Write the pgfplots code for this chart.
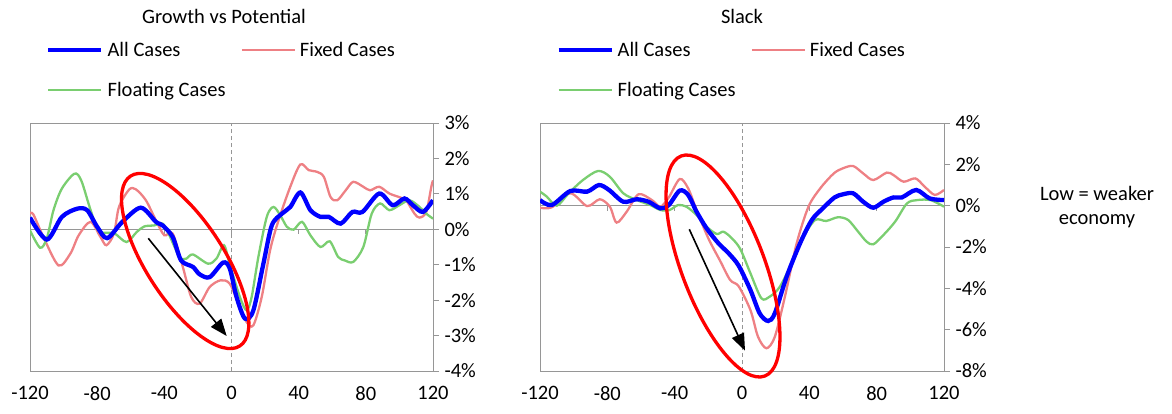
\documentclass[border=0pt]{standalone}
\usepackage{fontspec}
\setmainfont{Carlito}
\usepackage{pgfplots}
\pgfplotsset{compat=1.18}
\usetikzlibrary{arrows.meta}

\definecolor{allblue}{RGB}{0,0,255}
\definecolor{fixedred}{RGB}{238,128,132}
\definecolor{floatgreen}{RGB}{122,206,112}
\definecolor{framegray}{RGB}{150,150,150}

\pgfplotsset{
  panel/.style={
    scale only axis, width=403pt, height=248pt,
    xmin=-120, xmax=120,
    axis line style={framegray, line width=0.9pt},
    xtick={-120,-80,...,120},
    xticklabels={-120,-80,-40,0,40,80,120},
    xtick style={draw=none},
    xticklabel style={yshift=-6pt},
    ytick pos=right, yticklabel pos=right,
    tick align=outside, major tick length=6pt,
    ytick style={framegray, line width=0.9pt},
    yticklabel style={xshift=2pt},
    legend columns=2,
    legend cell align=left,
    legend image code/.code={\draw[##1] (0pt,0pt) -- (53pt,0pt);},
    legend style={anchor=north west, draw=none, fill=none, inner sep=0pt,
      row sep=22pt, nodes={inner sep=1pt},
      /tikz/every odd column/.append style={column sep=3pt},
      /tikz/every even column/.append style={column sep=14pt}},
  },
  allst/.style={allblue, line width=4.3pt, smooth},
  fixst/.style={fixedred, line width=2.3pt, smooth},
  flost/.style={floatgreen, line width=2.3pt, smooth},
}

\begin{document}
\begin{tikzpicture}[x=1pt, y=1pt, font=\fontsize{20.5}{24.6}\selectfont]
\path[use as bounding box] (0,0) rectangle (1172,-413);
\coordinate (P1) at (30,-371);
\coordinate (P2) at (540,-371);

% ---------- Growth vs Potential ----------
\begin{axis}[panel, at={(P1)}, anchor=south west,
    ymin=-4, ymax=3,
    ytick={-4,...,3},
    yticklabels={-4\%,-3\%,-2\%,-1\%,0\%,1\%,2\%,3\%},
    legend style={at={(axis description cs:0.04,1.33)}}]
  \addlegendimage{allblue, line width=4.3pt}
  \addlegendentry{All Cases}
  \addlegendimage{fixedred, line width=2.3pt}
  \addlegendentry{Fixed Cases}
  \addlegendimage{floatgreen, line width=2.3pt}
  \addlegendentry{Floating Cases}
  \draw[framegray, line width=0.9pt] (axis cs:-120,0) -- (axis cs:120,0);
  \pgfplotsinvokeforeach{-120,-80,-40,0,40,80,120}{
    \draw[framegray, line width=0.9pt] (axis cs:#1,0) -- ([yshift=-5pt]axis cs:#1,0);}
  \draw[framegray, line width=0.9pt, dash pattern=on 4pt off 3pt] (axis cs:0,-4) -- (axis cs:0,3);
  \addplot[fixst, forget plot] coordinates {
    (-120,0.44) (-118,0.42) (-112,-0.22) (-103,-1.02) (-96,-0.69) (-91,-0.17)
    (-84,0.21) (-78,-0.22) (-74.5,-0.45) (-70,-0.12) (-67,0.63) (-61,1.12)
    (-57,1.13) (-51,0.82) (-45,0.25) (-40,-0.17) (-35,-0.12) (-29,-1.06)
    (-24,-1.91) (-19,-2.1) (-13,-1.63) (-6.5,-1.44) (-1,-1.54) (5,-2.2)
    (9,-2.62) (13,-2.71) (18,-1.91) (23,-0.59) (28,0.25) (35,1.2) (41,1.83)
    (46,1.67) (51,1.62) (55,1.48) (59,0.91) (63,0.82) (68,1.1) (72.5,1.34)
    (78.5,1.2) (82.5,1.1) (88,1.2) (94,1.01) (101,0.89) (104,0.82) (109,0.44)
    (112,0.33) (116,0.49) (119,1.2) (120,1.38)};
  \addplot[flost, forget plot] coordinates {
    (-120,-0.03) (-114,-0.52) (-110,-0.26) (-106,0.54) (-101,1.15) (-93.5,1.57)
    (-89.5,1.38) (-84.5,0.63) (-79.5,-0.03) (-74.5,-0.1) (-69.5,-0.12)
    (-62.5,-0.36) (-56.5,-0.08) (-52,0.08) (-46,0.11) (-41,0.16) (-37,-0.17)
    (-31,-0.78) (-27,-0.83) (-23,-0.71) (-14,-0.97) (-9,-0.83) (-4.5,-0.45)
    (-1,-1.0) (5,-1.91) (9,-2.29) (12,-1.91) (16,-0.78) (21,0.35) (25,0.63)
    (29,0.4) (33,0.07) (37,-0.01) (42,0.21) (47,-0.17) (53,-0.5) (58.5,-0.34)
    (63.5,-0.78) (67.5,-0.88) (72.5,-0.92) (78.5,-0.5) (83.5,0.44) (88.5,0.73)
    (94,0.54) (100,0.68) (106,0.82) (112,0.63) (116,0.44) (120,0.3)};
  \addplot[allst, forget plot] coordinates {
    (-120,0.33) (-110,-0.29) (-101,0.35) (-92,0.58) (-86,0.54) (-80,0.07)
    (-74,-0.25) (-65,0.21) (-54,0.61) (-45,0.21) (-41,0.11) (-35,-0.22)
    (-30,-0.88) (-23,-1.06) (-19,-1.27) (-13,-1.35) (-5,-0.94) (-1,-1.11)
    (3,-1.91) (8,-2.52) (13,-2.29) (19,-0.97) (24,0.11) (30,0.44) (35,0.63)
    (41,1.04) (47,0.54) (53,0.35) (58,0.35) (65,0.16) (72,0.49) (78,0.49)
    (88,1.01) (96,0.68) (103,0.87) (108,0.68) (114,0.49) (120,0.82)};
\end{axis}

% ---------- Slack ----------
\begin{axis}[panel, at={(P2)}, anchor=south west, width=404pt,
    ymin=-8, ymax=4,
    ytick={-8,-6,...,4},
    yticklabels={-8\%,-6\%,-4\%,-2\%,0\%,2\%,4\%},
    legend style={at={(axis description cs:0.04,1.33)}}]
  \addlegendimage{allblue, line width=4.3pt}
  \addlegendentry{All Cases}
  \addlegendimage{fixedred, line width=2.3pt}
  \addlegendentry{Fixed Cases}
  \addlegendimage{floatgreen, line width=2.3pt}
  \addlegendentry{Floating Cases}
  \draw[framegray, line width=0.9pt] (axis cs:-120,0) -- (axis cs:120,0);
  \pgfplotsinvokeforeach{-120,-80,-40,0,40,80,120}{
    \draw[framegray, line width=0.9pt] (axis cs:#1,0) -- ([yshift=-5pt]axis cs:#1,0);}
  \draw[framegray, line width=0.9pt, dash pattern=on 4pt off 3pt] (axis cs:0,-8) -- (axis cs:0,4);
  \addplot[fixst, forget plot] coordinates {
    (-120,-0.1) (-113,-0.08) (-102,0.6) (-92,-0.02) (-84.5,0.31) (-78.5,-0.05)
    (-74.5,-0.82) (-68.5,-0.29) (-61.5,0.55) (-53.5,0.27) (-48.5,-0.05)
    (-43.5,0.4) (-37,1.29) (-32,0.84) (-27,-0.21) (-20,-1.58) (-13,-2.67)
    (-7,-3.6) (-2,-3.9) (5,-5.05) (9.5,-6.34) (14.5,-6.9) (19.5,-6.34)
    (25.5,-4.4) (32.5,-1.82) (39.5,-0.05) (46.5,0.84) (54.5,1.56) (60,1.81)
    (66,1.92) (72,1.56) (78,1.24) (86,1.6) (90,1.48) (96,1.16) (103,1.32)
    (108.5,0.92) (114.5,0.52) (120,0.76)};
  \addplot[flost, forget plot] coordinates {
    (-120,0.68) (-116,0.44) (-110,0.0) (-103,0.6) (-94.5,1.24) (-85.5,1.68)
    (-78.5,1.4) (-70.5,0.6) (-62.5,0.27) (-54.5,0.03) (-48.5,-0.21) (-43,-0.21)
    (-38,0.03) (-33,-0.05) (-27,-0.45) (-21,-1.02) (-15,-1.37) (-11,-1.26)
    (-6,-1.58) (-1,-2.1) (5,-3.27) (11.5,-4.48) (16.5,-4.4) (22.5,-3.92)
    (30.5,-2.63) (36.5,-1.5) (43.5,-0.69) (50,-0.74) (57,-0.56) (63,-0.69)
    (69,-1.26) (74,-1.74) (78,-1.87) (84,-1.42) (91,-0.77) (98,0.11)
    (104,0.27) (112,0.27) (120,-0.05)};
  \addplot[allst, forget plot] coordinates {
    (-120,0.27) (-113,0.03) (-102,0.71) (-92,0.68) (-85,1.0) (-79,0.76)
    (-70.5,0.19) (-62.5,0.31) (-55.5,0.19) (-48.5,-0.13) (-43.5,0.03)
    (-37,0.73) (-32,0.52) (-27,-0.29) (-21,-1.1) (-14,-1.82) (-8,-2.3)
    (-2,-2.9) (5,-4.08) (10.5,-5.21) (15.5,-5.58) (19.5,-5.21) (26.5,-3.44)
    (34.5,-1.82) (41.5,-0.69) (48,-0.13) (55,0.4) (60,0.55) (66,0.6)
    (72,0.19) (78,-0.1) (84,0.19) (90,0.4) (95,0.4) (103.5,0.76)
    (111.5,0.35) (120,0.27)};
\end{axis}

% titles and notes
\node at (224,-16) {Growth vs Potential};
\node at (742,-16) {Slack};
\node[align=center] at (1097,-207) {Low = weaker\\economy};

% annotations
\draw[red, line width=3.3pt, rotate around={-57.3:(185.2,-261)}]
  (185.2,-261) ellipse[x radius=101, y radius=39];
\draw[red, line width=3.3pt, rotate around={-69.2:(723,-266)}]
  (723,-266) ellipse[x radius=117.7, y radius=41.4];
\draw[black, line width=1.6pt, -{Triangle[length=17pt,width=13pt]}]
  (148.3,-238.3) -- (226.7,-336);
\draw[black, line width=1.6pt, -{Triangle[length=17pt,width=13pt]}]
  (689.3,-229.3) -- (745,-350.7);
\end{tikzpicture}
\end{document}
